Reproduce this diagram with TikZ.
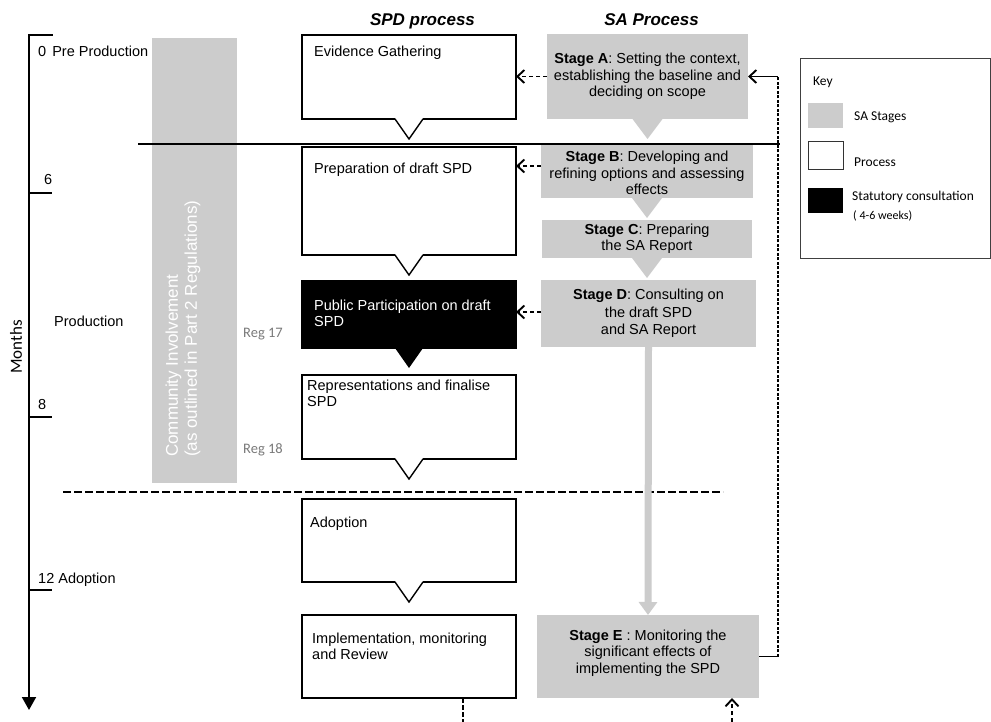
\documentclass[tikz,border=0pt]{standalone}
\usepackage{fontspec}
\setmainfont{Liberation Sans}
\newfontfamily\keyfont{Carlito}
\usetikzlibrary{arrows.meta,positioning,calc}
\definecolor{sagray}{HTML}{CCCCCC}
\definecolor{reggray}{HTML}{7A7A7A}
\tikzset{
    procbox/.style={
        draw=black, line width=1.4pt, fill=white,
        minimum width=214pt, inner sep=0pt, outer sep=0pt
    },
    stagebox/.style={
        fill=sagray, align=center, inner sep=0pt, outer sep=0pt,
        font=\fontsize{14.5}{16.5}\selectfont
    },
    boxtext/.style={
        anchor=north west, align=left, inner sep=0pt,
        font=\fontsize{14.5}{16}\selectfont
    },
    lab/.style={
        anchor=base west, inner sep=0pt,
        font=\fontsize{14.5}{17}\selectfont
    },
    keylab/.style={
        anchor=base west, inner sep=0pt,
        font=\keyfont\fontsize{13.5}{15}\selectfont
    },
    feed/.style={line width=1.9pt, dash pattern=on 4.5pt off 2.5pt},
    feedtip/.style={-{Straight Barb[length=7pt,width=13pt,line width=1.9pt]}}
}

\begin{document}
\begin{tikzpicture}[x=1pt,y=-1pt, line join=miter]

\useasboundingbox (0,0) rectangle (991,722);
\fill[white] (0,0) rectangle (991,722);

% time axis
\draw[line width=2pt, -{Triangle[length=13pt,width=14pt]}] (29,35) -- (29,710);
\draw[line width=2.5pt] (28,35) -- (53,35);
\foreach \y in {193,417} {
  \draw[line width=2pt] (29,\y) -- (52,\y);
}
\draw[line width=1.5pt] (29,590) -- (52,590);

\node[lab] (t0) at (38,57) {0\hspace{6pt}Pre Production};
\node[lab] (t6) at (44,185) {6};
\node[lab] (t8) at (38,409) {8};
\node[lab] (prod) at (54,326) {Production};
\node[lab] (t12) at (38,583) {12 Adoption};
\node[rotate=90, inner sep=0pt, font=\keyfont\fontsize{17}{19}\selectfont] (months) at (16,347) {Months};

% community involvement
\node[fill=sagray, minimum width=85pt, minimum height=445pt, inner sep=0pt] (commbar) at (194.5,260.5) {};
\node[rotate=90, anchor=west, align=left, inner sep=0pt, text=white,
      font=\fontsize{17}{19}\selectfont] (commtext) at (183,457)
      {Community Involvement\\(as outlined in Part 2 Regulations)};
\node[keylab, text=reggray, font=\keyfont\fontsize{14.5}{16}\selectfont] (reg17) at (243,337) {Reg 17};
\node[keylab, text=reggray, font=\keyfont\fontsize{14.5}{16}\selectfont] (reg18) at (243,453) {Reg 18};

% column titles
\node[anchor=base, inner sep=0pt, font=\fontsize{17}{20}\selectfont\bfseries\itshape] (spdtitle) at (422.5,26) {SPD process};
\node[anchor=base, inner sep=0pt, font=\fontsize{17}{20}\selectfont\bfseries\itshape] (satitle) at (651.5,26) {SA Process};

% SPD process
\node[procbox, minimum height=84pt] (evid) at (409,77) {};
\node[procbox, minimum height=108pt] (prep) at (409,201) {};
\node[procbox, minimum height=67pt, fill=black] (pub) at (409,314.5) {};
\node[procbox, minimum height=84pt] (repr) at (409,417) {};
\node[procbox, minimum height=83pt] (adopt) at (409,540.5) {};
\node[procbox, minimum height=83pt] (impl) at (409,656.5) {};

\foreach \b in {evid,prep,repr,adopt} {
  \fill[white] ([xshift=-14pt,yshift=1pt]\b.south) -- ([yshift=-20pt]\b.south)
     -- ([xshift=14pt,yshift=1pt]\b.south) -- cycle;
  \draw[line width=1.4pt] ([xshift=-14pt]\b.south) -- ([yshift=-20pt]\b.south)
     -- ([xshift=14pt]\b.south);
}
\fill[black] ([xshift=-14pt]pub.south) -- ([yshift=-20pt]pub.south)
   -- ([xshift=14pt]pub.south) -- cycle;

\node[boxtext, below right=10.5pt and 12pt of evid.north west] (evidtxt) {Evidence Gathering};
\node[boxtext, below right=15.5pt and 12pt of prep.north west] (preptxt) {Preparation of draft SPD};
\node[boxtext, below right=18.5pt and 12pt of pub.north west, text=white] (pubtxt) {Public Participation on draft\\SPD};
\node[boxtext, below right=4.5pt and 5pt of repr.north west] (reprtxt) {Representations and finalise\\SPD};
\node[boxtext, below right=17.5pt and 8pt of adopt.north west] (adopttxt) {Adoption};
\node[boxtext, below right=17.5pt and 10pt of impl.north west] (impltxt) {Implementation, monitoring\\and Review};

% SA process
\node[stagebox, minimum width=201pt, minimum height=85pt] (stageA) at (647.5,76.5)
  {{\bfseries Stage A}: Setting the context,\\establishing the baseline and\\deciding on scope};
\node[stagebox, minimum width=212pt, minimum height=54pt] (stageB) at (647,171)
  {\rule{0pt}{15pt}{\bfseries Stage B}: Developing and\\refining options and assessing\\effects};
\node[stagebox, minimum width=210pt, minimum height=38pt] (stageC) at (647,239)
  {{\bfseries Stage C}: Preparing\\the SA Report};
\node[stagebox, minimum width=215pt, minimum height=67pt, font=\fontsize{14.5}{17.5}\selectfont] (stageD) at (648.5,313.5)
  {{\bfseries Stage D}: Consulting on\\the draft SPD\\and SA Report};
\node[stagebox, minimum width=222pt, minimum height=83pt] (stageE) at (648,656.5)
  {{\bfseries Stage E} : Monitoring the\\significant effects of\\implementing the SPD\rule[-10pt]{0pt}{0pt}};

\foreach \s in {stageA,stageB,stageC} {
  \fill[sagray] ([xshift=-15pt]\s.south) -- ([yshift=-20pt]\s.south)
     -- ([xshift=15pt]\s.south) -- cycle;
}

% stage boundaries
\draw[line width=1.6pt] (138,144) -- (780,144);
\draw[line width=1.6pt, dash pattern=on 8pt off 3pt] (63,492) -- (723,492);

\draw[sagray, line width=7pt, -{Triangle[length=13pt,width=18pt]}] (stageD.south) -- (stageE.north);

% links from SA to SPD
\draw[feed, feedtip] (stageA.west) -- (stageA.west -| evid.east);
\draw[feed, feedtip] ([yshift=5pt]stageB.west) -- ([yshift=5pt]stageB.west -| prep.east);
\draw[feed, feedtip] ([yshift=1.5pt]stageD.west) -- ([yshift=1.5pt]stageD.west -| pub.east);

% monitoring loop
\coordinate (loopbot) at (778,656.5);
\coordinate (looptop) at (778,76.5);
\draw[line width=1.8pt] (stageE.east) -- (loopbot);
\draw[line width=1.8pt, dash pattern=on 3pt off 1.5pt] (loopbot) -- (looptop);
\draw[line width=1.8pt, feedtip] (looptop) -- (stageA.east);

\coordinate (implout) at (463,722);
\coordinate (ein) at (732,722);
\draw[feed] (impl.south -| implout) -- (implout);
\draw[feed, feedtip] (ein) -- (ein |- stageE.south);

% key
\node[draw=black!75, line width=0.9pt, minimum width=190pt, minimum height=200pt, inner sep=0pt] (keybox) at (895,158) {};
\node[keylab] (keytitle) at (813,86) {Key};
\node[fill=sagray, minimum width=35pt, minimum height=25pt, inner sep=0pt] (keysa) at (825.5,115.5) {};
\node[draw=black!80, line width=0.9pt, minimum width=35pt, minimum height=28pt, inner sep=0pt] (keyproc) at (825.5,155) {};
\node[fill=black, minimum width=35pt, minimum height=25pt, inner sep=0pt] (keystat) at (825.5,200.5) {};
\node[keylab] (keysatxt) at (854,121) {SA Stages};
\node[keylab] (keyproctxt) at (854,167) {Process};
\node[keylab] (keystattxt) at (852,201) {Statutory consultation};
\node[keylab, font=\keyfont\fontsize{12}{14}\selectfont] (keyweeks) at (853,220) {( 4-6 weeks)};

\end{tikzpicture}
\end{document}
